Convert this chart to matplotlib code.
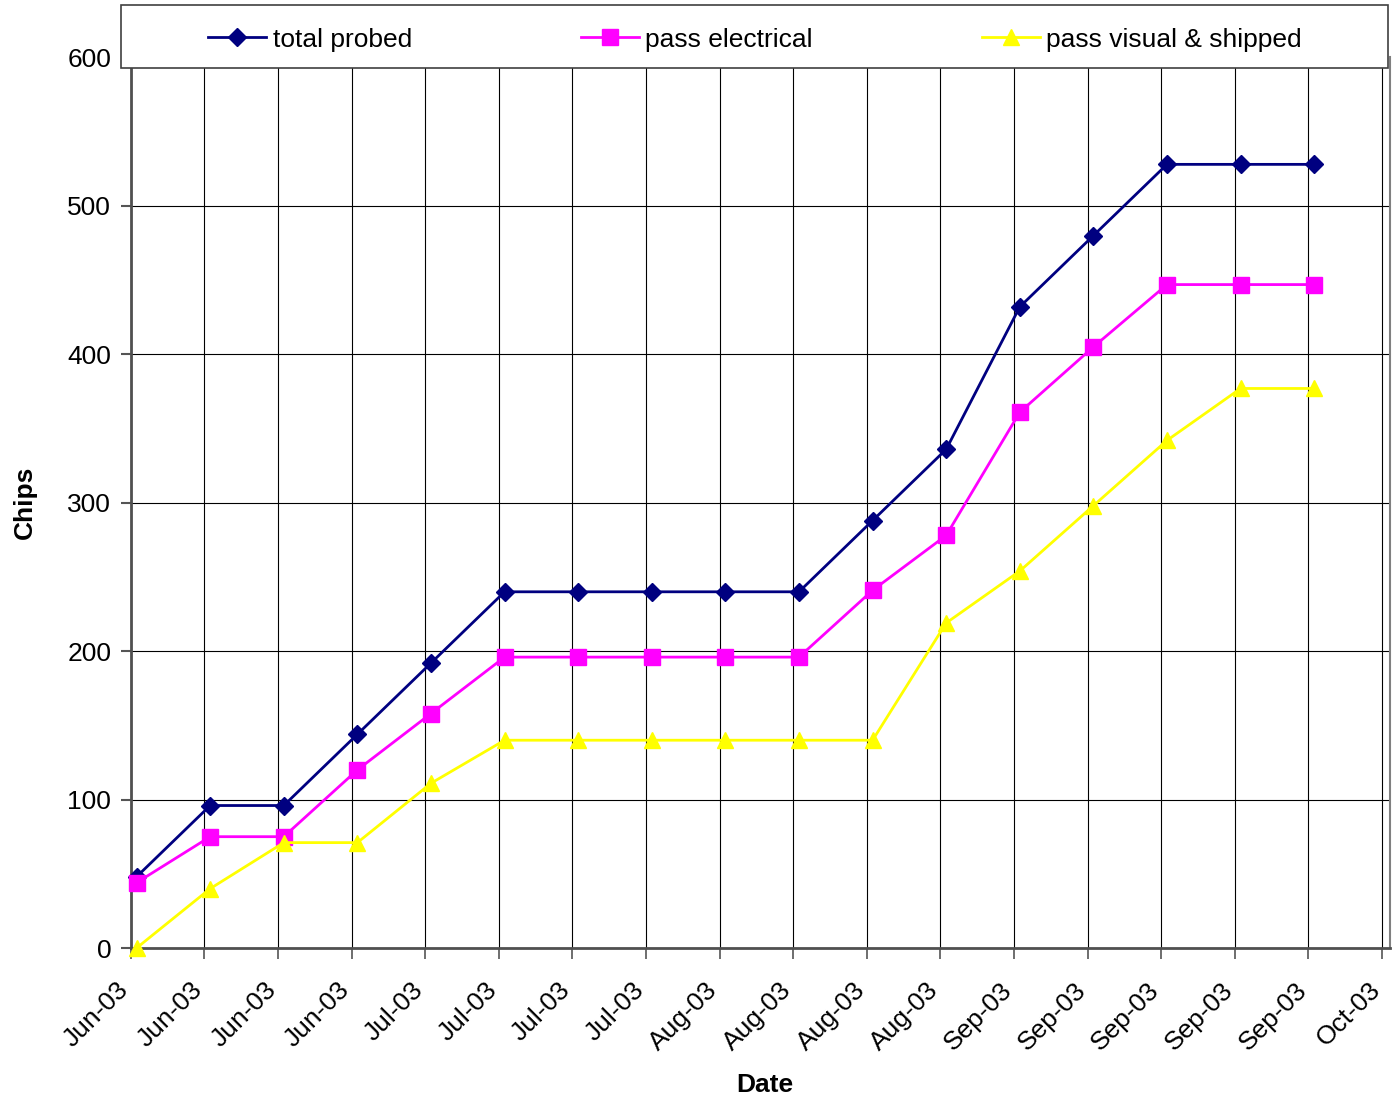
import numpy as np
import matplotlib.pyplot as plt
from matplotlib.patches import Rectangle
from matplotlib.transforms import ScaledTranslation

plt.rcParams['font.family'] = ['Liberation Sans', 'DejaVu Sans']

# weekly tick labels along the date axis
tick_labels = ['Jun-03', 'Jun-03', 'Jun-03', 'Jun-03', 'Jul-03', 'Jul-03',
               'Jul-03', 'Jul-03', 'Aug-03', 'Aug-03', 'Aug-03', 'Aug-03',
               'Sep-03', 'Sep-03', 'Sep-03', 'Sep-03', 'Sep-03', 'Oct-03']

# chip counts, one value per week (points sit just after each weekly tick)
week_pos = np.arange(17) + 0.08
total_probed = [48, 96, 96, 144, 192, 240, 240, 240, 240, 240, 288, 336,
                432, 480, 528, 528, 528]
pass_electrical = [44, 75, 75, 120, 158, 196, 196, 196, 196, 196, 241, 278,
                   361, 405, 447, 447, 447]
pass_visual = [0, 40, 71, 71, 111, 140, 140, 140, 140, 140, 140, 219,
               254, 298, 342, 377, 377]

W, H = 1394, 1101
fig = plt.figure(figsize=(W / 100, H / 100), dpi=100)
ax = fig.add_axes([130.7 / W, 1 - 948 / H, (1390 - 130.7) / W, (948 - 57.5) / H])

ax.plot(week_pos, total_probed, color='#000080', lw=2.0, marker='D', ms=9.5,
        label='total probed', clip_on=False, zorder=4)
ax.plot(week_pos, pass_electrical, color='#FF00FF', lw=2.0, marker='s', ms=11,
        label='pass electrical', clip_on=False, zorder=4)
ax.plot(week_pos, pass_visual, color='#FFFF00', lw=2.0, marker='^', ms=11.5,
        label='pass visual & shipped', clip_on=False, zorder=4)

ax.set_xlim(0, 17.11)
ax.set_ylim(0, 600)
ticks = np.arange(len(tick_labels))
ax.set_xticks(ticks)
ax.set_xticklabels([])
# rotated date labels, drawn as texts so they can sit a bit left of each tick
lab_tr = ax.get_xaxis_transform() + ScaledTranslation(-14 / 100, -30 / 100, fig.dpi_scale_trans)
for x, lab in zip(ticks, tick_labels):
    ax.text(x, 0, lab, transform=lab_tr, rotation=45, ha='right', va='top',
            rotation_mode='anchor', fontsize=19, clip_on=False)

ax.set_yticks(np.arange(0, 601, 100))
ax.tick_params(axis='y', labelsize=19, length=7, width=1.5, color='#555555', pad=7)
ax.tick_params(axis='x', length=8, width=1.2, color='#555555')
ax.grid(True, color='black', lw=0.8)
ax.set_axisbelow(True)

for side in ['left', 'bottom']:
    ax.spines[side].set_color('#505050')
    ax.spines[side].set_linewidth(2)
ax.spines['right'].set_color('#808080')
ax.spines['right'].set_linewidth(1.5)
ax.spines['top'].set_visible(False)

fig.text(765 / W, 1 - 1085 / H, 'Date', fontsize=19, fontweight='bold',
         ha='center', va='center')
ax.set_ylabel('Chips', fontsize=19, fontweight='bold', labelpad=22)

# legend box across the top, covering the upper edge of the plot
fig.patches.append(Rectangle((121 / W, 1 - 68 / H), (1388 - 121) / W, 63 / H,
                             transform=fig.transFigure, facecolor='white',
                             edgecolor='#404040', lw=1.2, zorder=5))
handles, labels = ax.get_legend_handles_labels()
leg = fig.legend(handles, labels, ncol=3, mode='expand', frameon=False,
                 bbox_to_anchor=(200 / W, 1 - 71 / H, (1310 - 200) / W, 63 / H),
                 loc='center', fontsize=19, handlelength=2.2, handletextpad=0.25,
                 borderaxespad=0, borderpad=0.3)
leg.set_zorder(6)

fig.savefig('out.png', dpi=100)
